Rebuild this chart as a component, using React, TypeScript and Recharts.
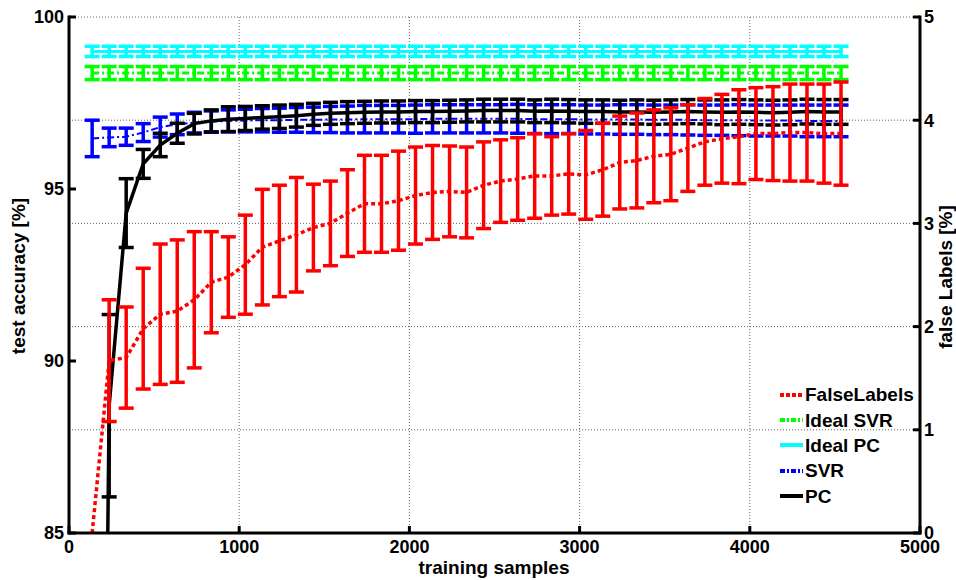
import { ComposedChart, Line, XAxis, YAxis, CartesianGrid, ErrorBar, Legend } from "recharts";

// training sample counts, one per run
const samples = [
  136, 236, 336, 436, 536, 636, 736, 836, 936, 1036,
  1136, 1236, 1336, 1436, 1536, 1636, 1736, 1836, 1936, 2036,
  2136, 2236, 2336, 2436, 2536, 2636, 2736, 2836, 2936, 3036,
  3136, 3236, 3336, 3436, 3536, 3636, 3736, 3836, 3936, 4036,
  4136, 4236, 4336, 4436, 4536,
];

// PC test accuracy [%] (first point lies far below the axis)
const pcMean = [
  43, 88.7, 94.3, 95.73, 96.28, 96.62, 96.9, 96.98, 97.03, 97.05,
  97.08, 97.1, 97.13, 97.17, 97.2, 97.22, 97.23, 97.24, 97.24, 97.25,
  97.25, 97.26, 97.27, 97.28, 97.28, 97.28, 97.26, 97.27, 97.26, 97.25,
  97.25, 97.24, 97.24, 97.23, 97.24, 97.25, 97.24, 97.23, 97.24, 97.23,
  97.22, 97.23, 97.25, 97.24, 97.24,
];
const pcErr = [
  3, 2.65, 1.0, 0.42, 0.34, 0.29, 0.3, 0.32, 0.36, 0.35,
  0.34, 0.34, 0.33, 0.32, 0.32, 0.32, 0.32, 0.32, 0.32, 0.32,
  0.32, 0.32, 0.32, 0.33, 0.33, 0.33, 0.33, 0.34, 0.34, 0.34,
  0.34, 0.34, 0.35, 0.35, 0.35, 0.35, 0.35, 0.36, 0.36, 0.36,
  0.36, 0.36, 0.36, 0.36, 0.36,
];

// SVR test accuracy [%]
const svrMean = [
  96.47, 96.5, 96.52, 96.64, 96.8, 96.88, 96.93, 96.96, 96.98, 96.99,
  97.0, 97.0, 97.01, 97.01, 97.02, 97.02, 97.03, 97.03, 97.03, 97.03,
  97.04, 97.04, 97.04, 97.04, 97.04, 97.04, 97.03, 97.03, 97.03, 97.02,
  97.02, 97.02, 97.02, 97.01, 97.01, 97.01, 97.0, 97.0, 97.0, 96.99,
  96.99, 96.99, 96.98, 96.98, 96.98,
];
const svrErr = [
  0.53, 0.27, 0.25, 0.26, 0.29, 0.3, 0.3, 0.31, 0.32, 0.33,
  0.34, 0.35, 0.36, 0.37, 0.38, 0.39, 0.4, 0.4, 0.4, 0.41,
  0.41, 0.41, 0.41, 0.41, 0.41, 0.42, 0.42, 0.42, 0.42, 0.42,
  0.42, 0.43, 0.43, 0.43, 0.43, 0.44, 0.44, 0.44, 0.45, 0.45,
  0.45, 0.45, 0.46, 0.46, 0.46,
];

// ideal classifiers, flat
const idealPcMean = [
  99.0, 99.0, 99.0, 99.0, 99.0, 99.0, 99.0, 99.0, 99.0, 99.0,
  99.0, 99.0, 99.0, 99.0, 99.0, 99.0, 99.0, 99.0, 99.0, 99.0,
  99.0, 99.0, 99.0, 99.0, 99.0, 99.0, 99.0, 99.0, 99.0, 99.0,
  99.0, 99.0, 99.0, 99.0, 99.0, 99.0, 99.0, 99.0, 99.0, 99.0,
  99.0, 99.0, 99.0, 99.0, 99.0,
];
const idealPcErr = [
  0.15, 0.15, 0.15, 0.15, 0.15, 0.15, 0.15, 0.15, 0.15, 0.15,
  0.15, 0.15, 0.15, 0.15, 0.15, 0.15, 0.15, 0.15, 0.15, 0.15,
  0.15, 0.15, 0.15, 0.15, 0.15, 0.15, 0.15, 0.15, 0.15, 0.15,
  0.15, 0.15, 0.15, 0.15, 0.15, 0.15, 0.15, 0.15, 0.15, 0.15,
  0.15, 0.15, 0.15, 0.15, 0.15,
];
const idealSvrMean = [
  98.37, 98.37, 98.37, 98.37, 98.37, 98.37, 98.37, 98.37, 98.37, 98.37,
  98.37, 98.37, 98.37, 98.37, 98.37, 98.37, 98.37, 98.37, 98.37, 98.37,
  98.37, 98.37, 98.37, 98.37, 98.37, 98.37, 98.37, 98.37, 98.37, 98.37,
  98.37, 98.37, 98.37, 98.37, 98.37, 98.37, 98.37, 98.37, 98.37, 98.37,
  98.37, 98.37, 98.37, 98.37, 98.37,
];
const idealSvrErr = [
  0.19, 0.19, 0.19, 0.19, 0.19, 0.19, 0.19, 0.19, 0.19, 0.19,
  0.19, 0.19, 0.19, 0.19, 0.19, 0.19, 0.19, 0.19, 0.19, 0.19,
  0.19, 0.19, 0.19, 0.19, 0.19, 0.19, 0.19, 0.19, 0.19, 0.19,
  0.19, 0.19, 0.19, 0.19, 0.19, 0.19, 0.19, 0.19, 0.19, 0.19,
  0.19, 0.19, 0.19, 0.19, 0.19,
];

// false labels [%] (right axis)
const falseMean = [
  0.0, 1.67, 1.7, 1.98, 2.12, 2.15, 2.26, 2.43, 2.48, 2.6,
  2.77, 2.83, 2.89, 2.96, 3.0, 3.1, 3.19, 3.19, 3.22, 3.27,
  3.3, 3.31, 3.3, 3.37, 3.41, 3.43, 3.46, 3.46, 3.48, 3.47,
  3.52, 3.59, 3.61, 3.65, 3.67, 3.73, 3.79, 3.82, 3.84, 3.87,
  3.87, 3.88, 3.88, 3.87, 3.87,
];
const falseErr = [
  null, 0.59, 0.49, 0.585, 0.68, 0.69, 0.66, 0.49, 0.39, 0.48,
  0.56, 0.54, 0.555, 0.42, 0.41, 0.42, 0.47, 0.47, 0.48, 0.47,
  0.455, 0.44, 0.44, 0.42, 0.4, 0.4, 0.41, 0.38, 0.39, 0.43,
  0.45, 0.45, 0.46, 0.45, 0.45, 0.42, 0.42, 0.43, 0.455, 0.445,
  0.455, 0.47, 0.47, 0.48, 0.5,
];

const xTicks = [0, 1000, 2000, 3000, 4000, 5000];
const leftTicks = [85, 90, 95, 100];
const rightTicks = [0, 1, 2, 3, 4, 5];

const data = samples.map((s, i) => ({
  samples: s,
  pc: pcMean[i],
  pcErr: pcErr[i],
  svr: svrMean[i],
  svrErr: svrErr[i],
  idealPc: idealPcMean[i],
  idealPcErr: idealPcErr[i],
  idealSvr: idealSvrMean[i],
  idealSvrErr: idealSvrErr[i],
  falseLabels: falseMean[i],
  falseErr: falseErr[i],
}));

const FONT = "'Liberation Sans', Arial, Helvetica, sans-serif";
const tickStyle = { fill: "#000", fontSize: 18, fontWeight: 700, fontFamily: FONT };
const frame = { stroke: "#000", strokeWidth: 3, strokeLinecap: "square" as const };
const tickLine = { stroke: "#000", strokeWidth: 3 };

const legendItems = [
  { name: "FalseLabels", color: "#FF0000", dash: "4 2" },
  { name: "Ideal SVR", color: "#00FF00", dash: "5 2 2 2" },
  { name: "Ideal PC", color: "#00FFFF", dash: undefined },
  { name: "SVR", color: "#0000FF", dash: "5 2 2 2" },
  { name: "PC", color: "#000000", dash: undefined },
];

function LegendBox() {
  return (
    <div style={{ fontFamily: FONT, fontWeight: 700, fontSize: 19, color: "#000" }}>
      {legendItems.map((it) => (
        <div key={it.name} style={{ display: "flex", alignItems: "center", height: 25.4 }}>
          <svg width={23} height={8} style={{ marginRight: 2 }}>
            <line x1={0} y1={4} x2={23} y2={4} stroke={it.color} strokeWidth={4} strokeDasharray={it.dash} />
          </svg>
          <span style={{ lineHeight: "19px" }}>{it.name}</span>
        </div>
      ))}
    </div>
  );
}

const axisTitle = {
  position: "absolute" as const,
  fontFamily: FONT,
  fontWeight: 700,
  fontSize: 19,
  whiteSpace: "nowrap" as const,
  color: "#000",
};

export default function App() {
  return (
    <div style={{ position: "absolute", left: 0, top: 0, width: 956, height: 580, background: "#fff" }}>
      <ComposedChart
        width={956}
        height={580}
        data={data}
        margin={{ top: 17, right: 6, bottom: 7, left: 9 }}
      >
        <CartesianGrid
          xAxisId="bottom"
          yAxisId="right"
          stroke="#666"
          strokeDasharray="1 2"
        />

        {/* mirrored tick marks first, so they sit right on the frame */}
        <YAxis yAxisId="leftMirror" orientation="left" type="number" domain={[0, 5]} ticks={[1, 2, 3, 4]}
          width={0} tick={false} axisLine={false} tickLine={tickLine} tickSize={-7} />
        <YAxis yAxisId="rightMirror" orientation="right" type="number" domain={[85, 100]} ticks={[90, 95]}
          width={0} tick={false} axisLine={false} tickLine={tickLine} tickSize={-7} />
        <XAxis xAxisId="top" orientation="top" type="number" domain={[0, 5000]} ticks={xTicks}
          height={0} tick={false} axisLine={frame} tickLine={tickLine} tickSize={-7} />

        <XAxis xAxisId="bottom" dataKey="samples" type="number" domain={[0, 5000]} ticks={xTicks}
          interval={0} height={40} tick={tickStyle} axisLine={frame} tickLine={tickLine}
          tickSize={-7} tickMargin={14} />
        <YAxis yAxisId="left" type="number" domain={[85, 100]} ticks={leftTicks} interval={0}
          allowDataOverflow width={60} tick={tickStyle} axisLine={frame} tickLine={tickLine}
          tickSize={-7} tickMargin={12} />
        <YAxis yAxisId="right" orientation="right" type="number" domain={[0, 5]} ticks={rightTicks}
          interval={0} width={30} tick={{ ...tickStyle, textAnchor: "start" }} axisLine={frame}
          tickLine={tickLine} tickSize={-7} tickMargin={11} />

        <Line xAxisId="bottom" yAxisId="left" dataKey="svr" stroke="#0000FF" strokeWidth={2}
          strokeDasharray="7 3 2 3" dot={false} activeDot={false} isAnimationActive={false}>
          <ErrorBar dataKey="svrErr" direction="y" width={7.5} stroke="#0000FF" strokeWidth={3.5} isAnimationActive={false} />
        </Line>
        <Line xAxisId="bottom" yAxisId="left" dataKey="pc" stroke="#000" strokeWidth={3.5}
          dot={false} activeDot={false} isAnimationActive={false}>
          <ErrorBar dataKey="pcErr" direction="y" width={7.5} stroke="#000" strokeWidth={3.5} isAnimationActive={false} />
        </Line>
        <Line xAxisId="bottom" yAxisId="left" dataKey="idealPc" stroke="#00FFFF" strokeWidth={3}
          dot={false} activeDot={false} isAnimationActive={false}>
          <ErrorBar dataKey="idealPcErr" direction="y" width={7.5} stroke="#00FFFF" strokeWidth={3.5} isAnimationActive={false} />
        </Line>
        <Line xAxisId="bottom" yAxisId="left" dataKey="idealSvr" stroke="#00FF00" strokeWidth={3}
          strokeDasharray="7 3 2 3" dot={false} activeDot={false} isAnimationActive={false}>
          <ErrorBar dataKey="idealSvrErr" direction="y" width={7.5} stroke="#00FF00" strokeWidth={3.5} isAnimationActive={false} />
        </Line>
        <Line xAxisId="bottom" yAxisId="right" dataKey="falseLabels" stroke="#FF0000" strokeWidth={3.5}
          strokeDasharray="4 3" dot={false} activeDot={false} isAnimationActive={false}>
          <ErrorBar dataKey="falseErr" direction="y" width={7.5} stroke="#FF0000" strokeWidth={3.5} isAnimationActive={false} />
        </Line>

        <Legend layout="vertical" align="center" verticalAlign="middle"
          wrapperStyle={{ left: 780, top: 382, width: "auto", height: "auto" }}
          content={() => <LegendBox />} />
      </ComposedChart>

      <div style={{ ...axisTitle, left: 19, top: 276, transform: "translate(-50%, -50%) rotate(-90deg)" }}>
        test accuracy [%]
      </div>
      <div style={{ ...axisTitle, left: 946, top: 277, transform: "translate(-50%, -50%) rotate(-90deg)" }}>
        false Labels [%]
      </div>
      <div style={{ ...axisTitle, left: 494, top: 568, transform: "translate(-50%, -50%)" }}>
        training samples
      </div>
    </div>
  );
}
